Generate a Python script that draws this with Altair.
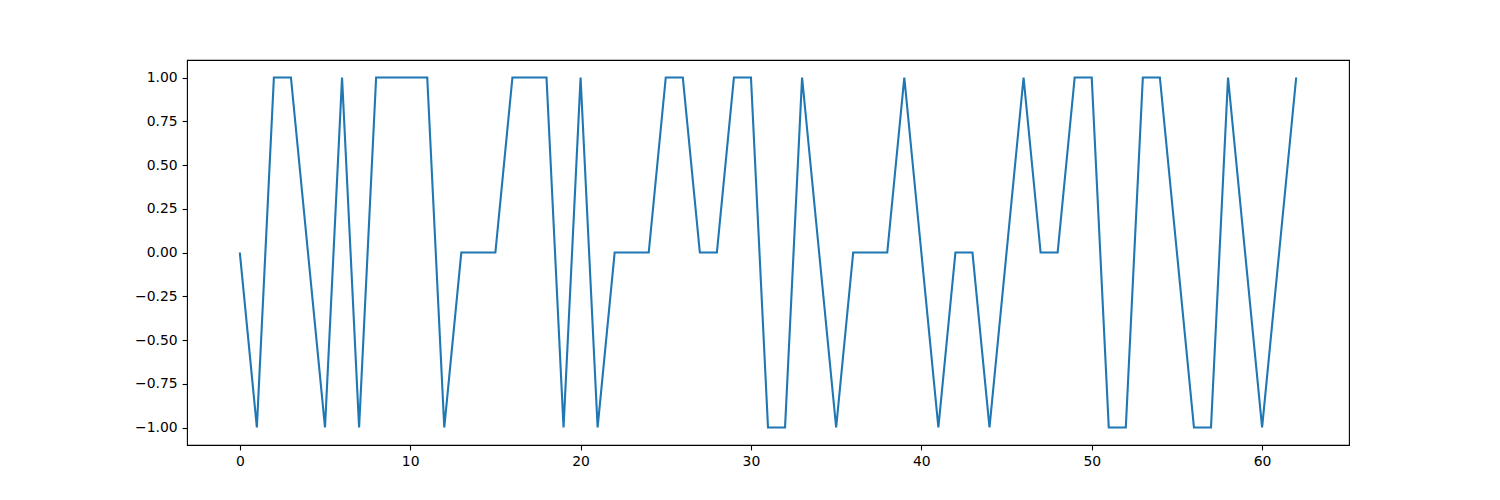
import altair as alt
import pandas as pd

xs = list(range(63))
ys = [0, -1, 1, 1, 0, -1, 1, -1, 1, 1, 1, 1, -1, 0, 0, 0, 1, 1, 1, -1,
      1, -1, 0, 0, 0, 1, 1, 0, 0, 1, 1, -1, -1, 1, 0, -1, 0, 0, 0, 1,
      0, -1, 0, 0, -1, 0, 1, 0, 0, 1, 1, -1, -1, 1, 1, 0, -1, -1, 1, 0,
      -1, 0, 1]
x_ticks = [0, 10, 20, 30, 40, 50, 60]
y_ticks = [-1.0, -0.75, -0.5, -0.25, 0.0, 0.25, 0.5, 0.75, 1.0]

df = pd.DataFrame({"x": xs, "y": ys})

axis_common = dict(
    grid=False, domain=False, tickColor="black", tickSize=4.9, tickWidth=1.1,
    labelFont="DejaVu Sans", labelFontSize=13.9, labelColor="black", title=None,
    labelPadding=4.9,
)

chart = alt.Chart(df).mark_line(color="#1f77b4", strokeWidth=2.1, clip=True).encode(
    x=alt.X("x:Q", scale=alt.Scale(domain=[-3.1, 65.1], nice=False, zero=False),
            axis=alt.Axis(values=x_ticks, format="d", **axis_common)),
    y=alt.Y("y:Q", scale=alt.Scale(domain=[-1.1, 1.1], nice=False, zero=False),
            axis=alt.Axis(values=y_ticks, format=".2f", **axis_common)),
).properties(
    width=1162, height=385,
    autosize=alt.AutoSizeParams(type="none"),
    padding={"left": 179, "top": 52, "right": 140, "bottom": 50},
).configure(
    background="white",
    view=alt.ViewConfig(stroke="black", strokeWidth=1.1),
)

chart.save("out.html", embed_options={"renderer": "svg", "actions": False})
